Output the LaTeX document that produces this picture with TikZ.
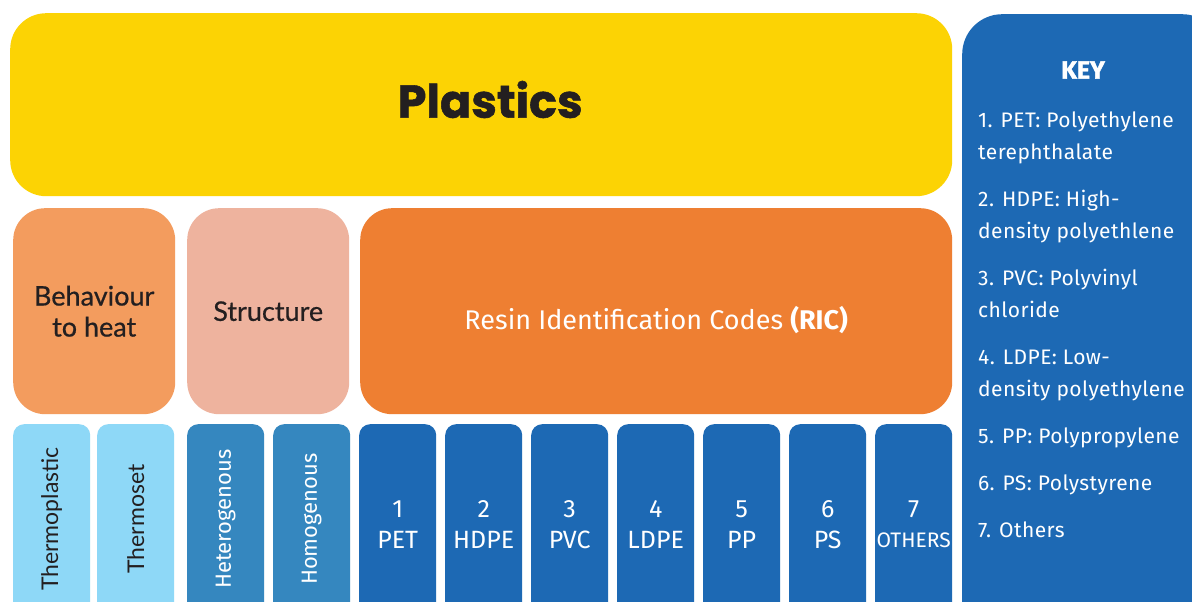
\documentclass[tikz,border=0pt]{standalone}
\usepackage{fontspec}
\setmainfont{Fira Sans}
\newfontfamily\latofont{Lato}
\newfontfamily\heavyfont{Poppins}
\usepackage{tikz}

\definecolor{inkdark}{HTML}{231F20}
\definecolor{plasticyellow}{HTML}{FCD304}
\definecolor{heatorange}{HTML}{F39C5E}
\definecolor{structpink}{HTML}{EEB39E}
\definecolor{ricorange}{HTML}{EE7F32}
\definecolor{thermoblue}{HTML}{8ED8F7}
\definecolor{structblue}{HTML}{3587BF}
\definecolor{codeblue}{HTML}{1D69B4}

\tikzset{
  panel/.style={rounded corners=32pt, inner sep=0pt, anchor=north west, align=center},
  tagbox/.style={rounded corners=11pt, inner sep=0pt, anchor=north west,
    minimum width=77pt, minimum height=190pt, align=center},
  codebox/.style={tagbox, minimum height=200pt, fill=codeblue, text=white, font=\fontsize{25}{31}\selectfont},
}

\begin{document}
\begin{tikzpicture}[x=1pt, y=-1pt]
  \clip (0,0) rectangle (1192,602);
  \fill[white] (0,0) rectangle (1192,602);

  % top level
  \node[panel, rounded corners=36pt, fill=plasticyellow, minimum width=942pt, minimum height=183pt,
    text height=33pt, text depth=7pt, text=inkdark,
    font=\heavyfont\bfseries\addfontfeature{FakeBold=1.2}\fontsize{46}{50}\selectfont] (plastics) at (10,13) {\hspace*{18pt}Plastics};

  % classification rows
  \node[panel, fill=heatorange, minimum width=162pt, minimum height=206pt, text=inkdark,
    font=\latofont\addfontfeature{FakeBold=0.6}\fontsize{27}{31}\selectfont] (heat) at (13,208) {Behaviour\\to heat};
  \node[panel, fill=structpink, minimum width=162pt, minimum height=206pt, text=inkdark,
    font=\latofont\addfontfeature{FakeBold=0.6}\fontsize{27}{31}\selectfont] (structure) at (187,208) {Structure};
  \node[panel, fill=ricorange, minimum width=592pt, minimum height=206pt, text=white,
    text height=37pt, text depth=0pt, font=\fontsize{27}{30}\selectfont] (ric) at (360,208) {Resin Identification Codes \textbf{(RIC)}};

  % behaviour to heat
  \node[tagbox, fill=thermoblue] (tplastic) at (13,424) {};
  \node[tagbox, fill=thermoblue] (tset) at (97,424) {};
  \node[rotate=90, text=inkdark, font=\latofont\fontsize{23}{26}\selectfont] (tplasticlbl) at (tplastic.center) {Thermoplastic};
  \node[rotate=90, text=inkdark, font=\latofont\fontsize{23}{26}\selectfont] (tsetlbl) at (tset.center) {Thermoset};

  % structure
  \node[tagbox, fill=structblue] (hetero) at (187,424) {};
  \node[tagbox, fill=structblue] (homo) at (273,424) {};
  \node[rotate=90, text=white, font=\fontsize{22}{26}\selectfont] (heterolbl) at (hetero.center) {Heterogenous};
  \node[rotate=90, text=white, font=\fontsize{22}{26}\selectfont] (homolbl) at (homo.center) {Homogenous};

  % resin codes
  \foreach \n/\code [count=\i from 0] in {1/PET,2/HDPE,3/PVC,4/LDPE,5/PP,6/PS}{
    \node[codebox] (ric\n) at (359+86*\i,424) {\n\\\code};
  }
  \node[codebox, font=\fontsize{21}{30}\selectfont] (ric7) at (875,424) {\fontsize{25}{30}\selectfont 7\\OTHERS};

  % key
  \node[panel, rounded corners=40pt, fill=codeblue, minimum width=260pt, minimum height=630pt] (key) at (962,14) {};
  \node[text=white, font=\bfseries\addfontfeature{FakeBold=1.5}\fontsize{25}{28}\selectfont] (keytitle) at (1083,70) {KEY};
  \node[anchor=north west, inner sep=0pt, text=white, align=left,
    font=\addfontfeature{LetterSpace=2}\fontsize{21}{32}\selectfont] (keylist) at (978,112) {%
    1. PET: Polyethylene\\terephthalate\\[15pt]
    2. HDPE: High-\\density polyethlene\\[15pt]
    3. PVC: Polyvinyl\\chloride\\[15pt]
    4. LDPE: Low-\\density polyethylene\\[15pt]
    5. PP: Polypropylene\\[15pt]
    6. PS: Polystyrene\\[15pt]
    7. Others};
\end{tikzpicture}
\end{document}
